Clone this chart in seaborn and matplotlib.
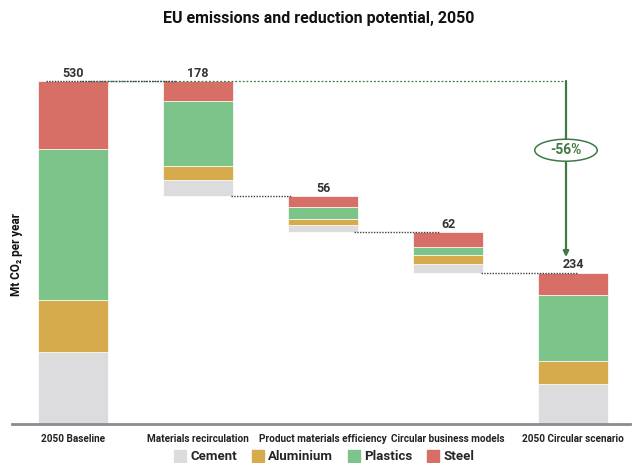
import matplotlib
matplotlib.use("Agg")
import matplotlib.pyplot as plt
from matplotlib.patches import Ellipse
from matplotlib.lines import Line2D
import seaborn as sns
import pandas as pd
import numpy as np

# ---- data ----
stages = ["2050 Baseline", "Materials recirculation", "Product materials efficiency",
          "Circular business models", "2050 Circular scenario"]
materials = ["Cement", "Aluminium", "Plastics", "Steel"]
cement = [112, 25, 12, 13, 62]
aluminium = [80, 22, 8, 14, 36]
plastics = [233, 100, 19, 12, 102]
steel = [105, 31, 17, 23, 34]
totals = [530, 178, 56, 62, 234]
reduction_label = "-56%"

colors = {"Cement": "#dcdcde", "Aluminium": "#d5ab4b", "Plastics": "#7cc48a", "Steel": "#d76f66"}

sns.set_theme(style="white")
plt.rcParams["font.family"] = ["Roboto", "DejaVu Sans"]

fig = plt.figure(figsize=(6.38, 4.63), dpi=100)
W, H = 638, 463
ax = fig.add_axes([12 / W, (H - 424) / H, 618 / W, 364 / H])

# floating bases of each waterfall column
base = [0]
level = totals[0]
for t in totals[1:-1]:
    level -= t
    base.append(level)
base.append(0)

df = pd.DataFrame({"stage": stages, "Cement": cement, "Aluminium": aluminium,
                   "Plastics": plastics, "Steel": steel, "base": base})
bottom = np.array(base, dtype=float)
for m in materials:
    sns.barplot(data=df, x="stage", y=m, order=stages, color=colors[m], width=0.56,
                bottom=bottom.copy(), edgecolor="white", linewidth=0.5, ax=ax,
                saturation=1, zorder=2)
    bottom = bottom + df[m].values

ax.set_xlim(-0.488, -0.488 + 618 / 125)
ax.set_ylim(0, 562.4)
ax.set_ylabel("")
ax.set_yticks([])
ax.set_xlabel("")
ax.set_xticks(range(len(stages)))
ax.set_xticklabels(stages, fontsize=7.2, fontweight="bold", color="#222222")
ax.tick_params(axis="x", length=0, pad=7)
for s in ["top", "right", "left"]:
    ax.spines[s].set_visible(False)
ax.spines["bottom"].set_color("#8a8a90")
ax.spines["bottom"].set_linewidth(2)

fig.text(17 / W, 1 - 255 / H, "Mt CO₂ per year", rotation=90, ha="center", va="center",
         fontsize=8.5, fontweight="bold", color="#111111")

# value labels
tops = [b + t for b, t in zip(base, totals)]
for i, (tp, t) in enumerate(zip(tops, totals)):
    ax.text(i, tp + 2, str(t), ha="center", va="bottom", fontsize=9,
            fontweight="bold", color="#333333", zorder=5)

# connectors
dot = dict(color="#3a3f4a", linestyle=(0, (1, 1)), linewidth=1.0, zorder=3)
ax.plot([-0.22, 0.82], [totals[0], totals[0]], **dot)
ax.plot([1.26, 1.74], [base[1], base[1]], **dot)
ax.plot([2.25, 2.93], [base[2], base[2]], **dot)
ax.plot([3.26, 4.03], [base[3], base[3]], **dot)

green = "#3f7a45"
ax.plot([0.06, 3.944], [totals[0], totals[0]], color=green, linestyle=(0, (1.5, 1.5)),
        linewidth=0.9, zorder=2.5)
ax.annotate("", xy=(3.944, totals[-1] + 24), xytext=(3.944, totals[0]),
            arrowprops=dict(arrowstyle="-|>", color=green, lw=1.6, mutation_scale=8,
                            shrinkA=0, shrinkB=0), zorder=4)
ell = Ellipse((3.944, 423), width=0.50, height=34, facecolor="white", edgecolor=green,
              linewidth=1.1, zorder=5)
ax.add_patch(ell)
ax.text(3.944, 423, reduction_label, ha="center", va="center", fontsize=10,
        fontweight="bold", color=green, zorder=6)

# title
fig.text(0.5, 1 - 18 / H, "EU emissions and reduction potential, 2050", ha="center",
         va="center", fontsize=11.5, fontweight="bold", color="#111111")

# legend
handles = [Line2D([0], [0], marker="s", linestyle="", markersize=8,
                  markerfacecolor=colors[m], markeredgecolor=colors[m]) for m in materials]
fig.legend(handles, materials, loc="center", bbox_to_anchor=(0.508, 1 - 457 / H), ncol=4,
           frameon=False, prop={"size": 9.5, "weight": "bold"}, handletextpad=0.35,
           columnspacing=1.1, handlelength=0.9, borderaxespad=0)

fig.savefig("out.png", dpi=100)
